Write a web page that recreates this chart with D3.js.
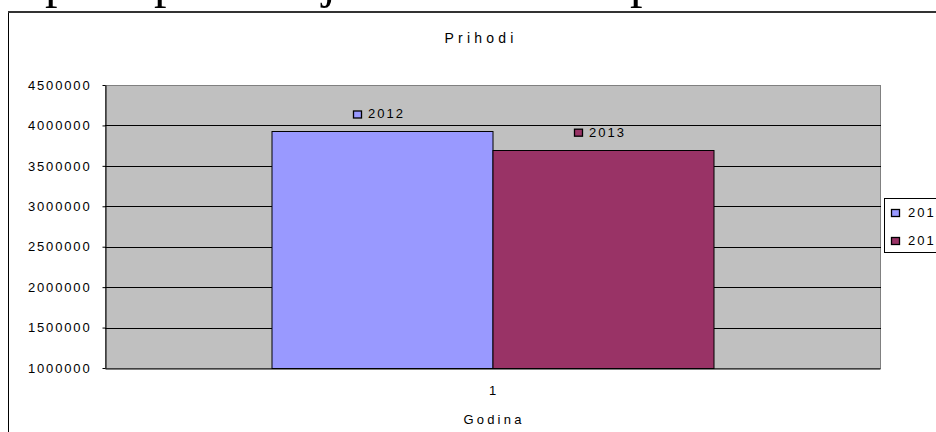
<!DOCTYPE html>
<html>
<head>
<meta charset="utf-8">
<script src="https://cdn.jsdelivr.net/npm/d3@7"></script>
<style>
  html, body { margin: 0; padding: 0; background: #fff; }
  svg { display: block; font-family: "Liberation Sans", Arial, sans-serif; }
</style>
</head>
<body>
<div id="chart"></div>
<script>
// chart data
const categories = ["1"];
const seriesNames = ["2012", "2013"];
const seriesValues = [3925000, 3700000];
const seriesColors = ["#9999FF", "#993366"];
const yTicks = [1000000, 1500000, 2000000, 2500000, 3000000, 3500000, 4000000, 4500000];
const titleText = "Prihodi";
const xTitleText = "Godina";

const width = 936, height = 432;
const plot = {left: 105, right: 880, top: 85, bottom: 368};

const svg = d3.select("#chart").append("svg")
    .attr("width", width)
    .attr("height", height);

// cut-off line of page text above the chart (only descenders visible)
const pageGlyphs = [{c: "p", x: 45}, {c: "p", x: 154}, {c: "j", x: 322}, {c: "p", x: 630}];
svg.selectAll("text.page")
    .data(pageGlyphs)
    .join("text")
    .attr("class", "page")
    .attr("x", d => d.x)
    .attr("y", -3.5)
    .style("font-family", "'Liberation Serif', 'Times New Roman', serif")
    .style("font-size", "50px")
    .attr("fill", "#000")
    .text(d => d.c);

// chart area border (runs off the right and bottom edges)
svg.append("rect")
    .attr("x", 8.5).attr("y", 12)
    .attr("width", 960).attr("height", 460)
    .attr("fill", "none")
    .attr("stroke", "#000")
    .attr("stroke-width", 1);
svg.append("line")
    .attr("x1", 8).attr("x2", width)
    .attr("y1", 12).attr("y2", 12)
    .attr("stroke", "#333").attr("stroke-width", 2);

const y = d3.scaleLinear()
    .domain([yTicks[0], yTicks[yTicks.length - 1]])
    .range([plot.bottom, plot.top]);

const x0 = d3.scaleBand()
    .domain(categories)
    .range([plot.left, plot.right])
    .paddingInner(0)
    .paddingOuter(0.3767);

const x1 = d3.scaleBand()
    .domain(seriesNames)
    .range([0, x0.bandwidth()]);

// plot area
svg.append("rect")
    .attr("x", plot.left + 0.5).attr("y", plot.top + 0.5)
    .attr("width", plot.right - plot.left).attr("height", plot.bottom - plot.top)
    .attr("fill", "#C0C0C0")
    .attr("stroke", "#808080");

// gridlines
svg.append("g")
    .selectAll("line")
    .data(yTicks.slice(1, -1))
    .join("line")
    .attr("x1", plot.left).attr("x2", plot.right + 1)
    .attr("y1", d => Math.round(y(d)) + 0.5)
    .attr("y2", d => Math.round(y(d)) + 0.5)
    .attr("stroke", "#000");

// bars
const seriesData = seriesNames.map((name, i) => ({name: name, value: seriesValues[i], color: seriesColors[i]}));
const gBars = svg.append("g")
    .attr("transform", `translate(${x0(categories[0])},0)`);
gBars.selectAll("rect")
    .data(seriesData)
    .join("rect")
    .attr("x", d => Math.round(x1(d.name)) + 0.5)
    .attr("y", d => Math.round(y(d.value)) + 0.5)
    .attr("width", x1.bandwidth())
    .attr("height", d => Math.round(y(yTicks[0])) - Math.round(y(d.value)))
    .attr("fill", d => d.color)
    .attr("stroke", "#000");

// data labels: legend key + series name
const labels = gBars.selectAll("g.label")
    .data(seriesData)
    .join("g")
    .attr("class", "label")
    .attr("transform", d => `translate(${x1(d.name) + x1.bandwidth() / 2},${y(d.value) - 13})`);
labels.append("rect")
    .attr("x", -28.5).attr("y", -7.5)
    .attr("width", 8).attr("height", 7)
    .attr("fill", d => d.color)
    .attr("stroke", "#000").attr("stroke-width", 1.3);
labels.append("text")
    .attr("x", -14)
    .style("font-size", "13px")
    .style("letter-spacing", "2px")
    .attr("fill", "#000")
    .text(d => d.name);

// y axis
const yAxis = svg.append("g")
    .attr("transform", `translate(${plot.left + 0.5},0)`)
    .call(d3.axisLeft(y).tickValues(yTicks).tickSizeInner(3).tickSizeOuter(0).tickPadding(11).tickFormat(d3.format("d")));
yAxis.select(".domain").attr("stroke", "#000");
yAxis.selectAll(".tick line").attr("stroke", "#000");
yAxis.selectAll("text")
    .style("font-size", "13px")
    .style("letter-spacing", "1.85px")
    .style("font-family", "'Liberation Sans', Arial, sans-serif")
    .attr("fill", "#000");

// x axis
const xAxis = svg.append("g")
    .attr("transform", `translate(0,${plot.bottom + 0.5})`)
    .call(d3.axisBottom(x0).tickSize(0).tickPadding(17));
xAxis.select(".domain").attr("stroke", "#000");
xAxis.selectAll("text")
    .style("font-size", "13px")
    .style("font-family", "'Liberation Sans', Arial, sans-serif")
    .attr("fill", "#000");

// titles
svg.append("text")
    .attr("x", 481).attr("y", 43)
    .attr("text-anchor", "middle")
    .style("font-size", "14px")
    .style("letter-spacing", "4.2px")
    .attr("fill", "#000")
    .text(titleText);

svg.append("text")
    .attr("x", 494).attr("y", 424)
    .attr("text-anchor", "middle")
    .style("font-size", "13px")
    .style("letter-spacing", "3.2px")
    .attr("fill", "#000")
    .text(xTitleText);

// legend (cut off at right edge)
const legend = svg.append("g").attr("transform", "translate(884.5,198.5)");
legend.append("rect")
    .attr("width", 80).attr("height", 54)
    .attr("fill", "#fff").attr("stroke", "#000");
const items = legend.selectAll("g.item")
    .data(seriesData)
    .join("g")
    .attr("class", "item")
    .attr("transform", (d, i) => `translate(0,${18 + i * 28})`);
items.append("rect")
    .attr("x", 7).attr("y", -7)
    .attr("width", 8).attr("height", 7)
    .attr("fill", d => d.color)
    .attr("stroke", "#000").attr("stroke-width", 1.3);
items.append("text")
    .attr("x", 23.5)
    .style("font-size", "13px")
    .style("letter-spacing", "2px")
    .attr("fill", "#000")
    .text(d => d.name);
</script>
</body>
</html>
